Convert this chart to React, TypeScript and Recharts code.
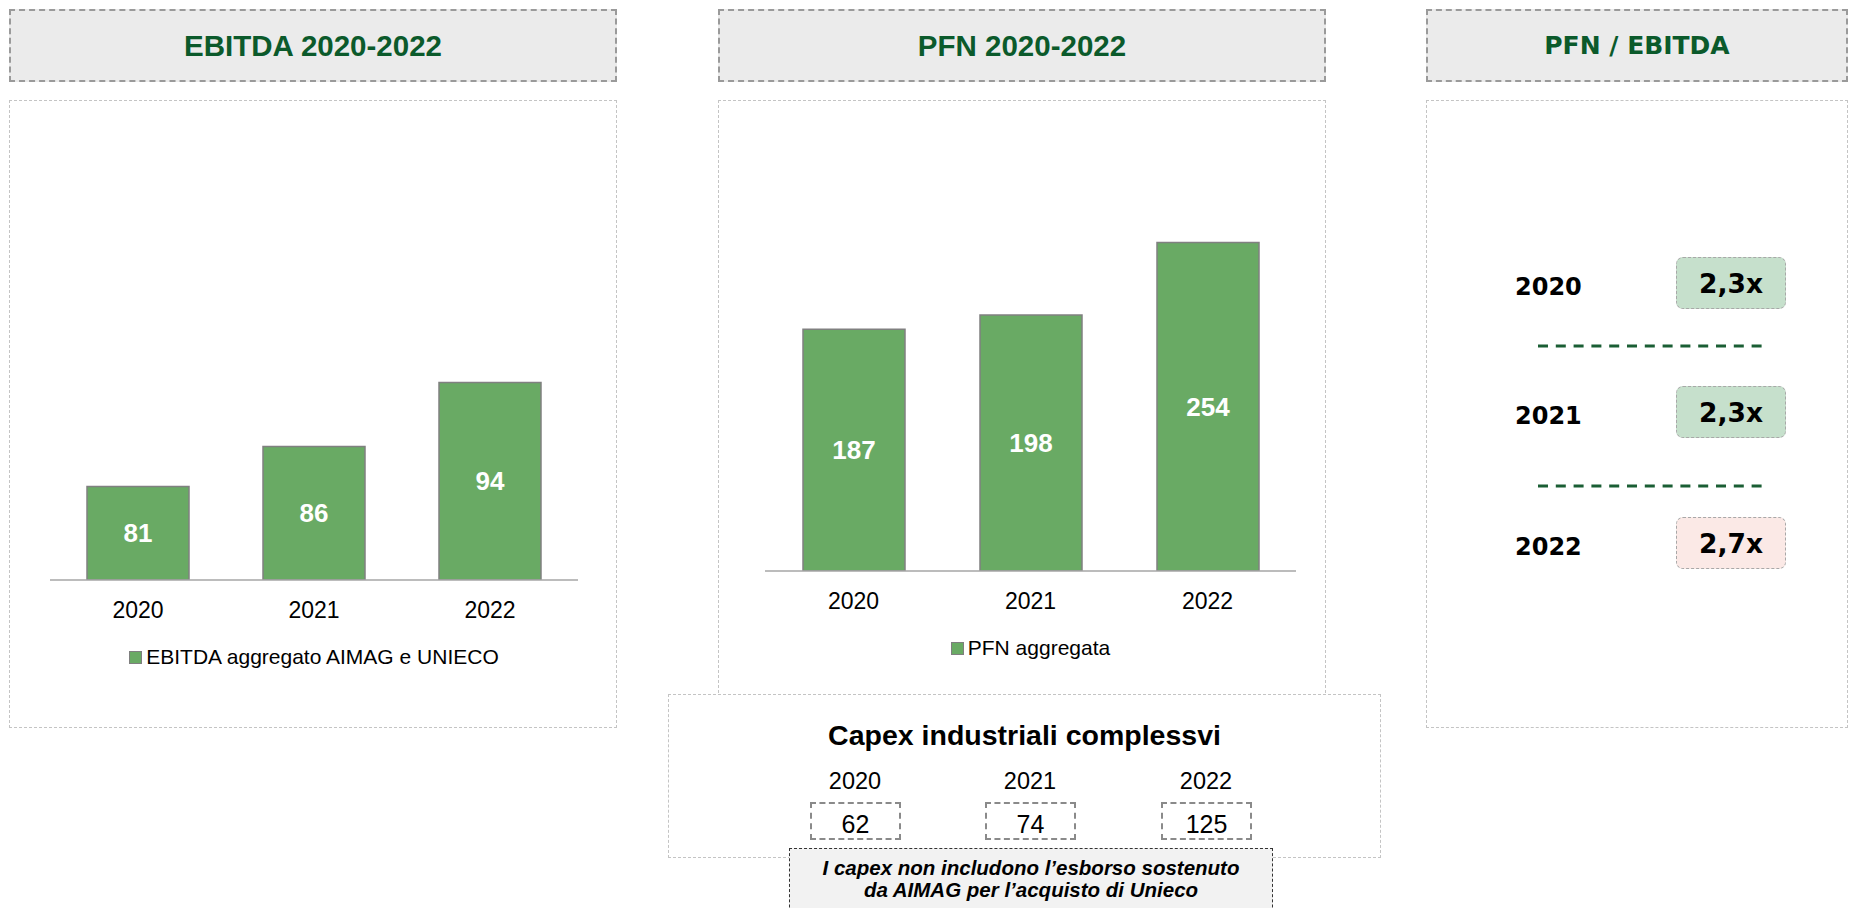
import { BarChart, Bar, XAxis, YAxis, LabelList, Legend } from 'recharts'

const YEARS = ['2020', '2021', '2022']
const EBITDA = [81, 86, 94]
const PFN = [187, 198, 254]
const CAPEX = [62, 74, 125]
const RATIOS = ['2,3x', '2,3x', '2,7x']
const RATIO_FILLS = ['#c6e0cc', '#c6e0cc', '#fbe9e6']

const SANS = '"Liberation Sans", Arial, sans-serif'
const WIDE = '"DejaVu Sans", Verdana, sans-serif'
const GREEN = '#0b5a2b'
const BAR_FILL = '#69aa64'

const ebitdaData = YEARS.map((year, i) => ({ year, value: EBITDA[i] }))
const pfnData = YEARS.map((year, i) => ({ year, value: PFN[i] }))

function LegendBox(props: any) {
  const item = (props.payload || [])[0]
  return (
    <div style={{ display: 'flex', justifyContent: 'center', alignItems: 'center', height: 24 }}>
      <span style={{ width: 11, height: 11, background: BAR_FILL, border: '1px solid #7f7f7f', marginRight: 4 }} />
      <span style={{ fontFamily: SANS, fontSize: 21, color: '#000' }}>{item ? item.value : ''}</span>
    </div>
  )
}

interface ChartProps {
  data: { year: string; value: number }[]
  name: string
  domain: [number, number]
  left: number
  top: number
  width: number
  height: number
  margin: { top: number; right: number; bottom: number; left: number }
  legendTop: number
}

function PanelChart({ data, name, domain, left, top, width, height, margin, legendTop }: ChartProps) {
  return (
    <div style={{ position: 'absolute', left, top }}>
      <BarChart width={width} height={height} data={data} margin={margin}>
        <XAxis
          dataKey="year"
          axisLine={{ stroke: '#a6a6a6', strokeWidth: 1.5 }}
          tickLine={false}
          tickMargin={16}
          height={60}
          tick={{ fill: '#000', fontSize: 23, fontFamily: SANS }}
        />
        <YAxis hide domain={domain} allowDataOverflow />
        <Legend
          layout="horizontal"
          align="center"
          verticalAlign="middle"
          content={LegendBox}
          wrapperStyle={{ top: legendTop, left: margin.left, width: width - margin.left - margin.right, bottom: 'auto' }}
        />
        <Bar
          dataKey="value"
          name={name}
          fill={BAR_FILL}
          stroke="#808080"
          strokeWidth={1.5}
          barSize={102}
          isAnimationActive={false}
        >
          <LabelList
            dataKey="value"
            position="center"
            fill="#fff"
            fontSize={26}
            fontWeight="bold"
            fontFamily={SANS}
          />
        </Bar>
      </BarChart>
    </div>
  )
}

function Header({ x, w, title, font, size }: { x: number; w: number; title: string; font: string; size: number }) {
  return (
    <div
      style={{
        position: 'absolute', left: x, top: 9, width: w, height: 73, boxSizing: 'border-box',
        background: '#ebebeb', border: '2px dashed #9a9a9a',
        display: 'flex', alignItems: 'center', justifyContent: 'center',
        fontFamily: font, fontWeight: 'bold', fontSize: size, color: GREEN,
      }}
    >
      {title}
    </div>
  )
}

function Panel({ x, w, h }: { x: number; w: number; h: number }) {
  return (
    <div
      style={{
        position: 'absolute', left: x, top: 100, width: w, height: h, boxSizing: 'border-box',
        border: '1px dashed #c4c4c4', background: '#fff',
      }}
    />
  )
}

export default function App() {
  const capexX = [855, 1030, 1206]
  const rowY = [287, 416, 547]
  return (
    <div style={{ position: 'absolute', left: 0, top: 0, width: 1851, height: 908, overflow: 'hidden', background: '#fff' }}>
      <Header x={9} w={608} title="EBITDA 2020-2022" font={SANS} size={29.5} />
      <Header x={718} w={608} title="PFN 2020-2022" font={SANS} size={29.5} />
      <Header x={1426} w={422} title="PFN / EBITDA" font={WIDE} size={25} />

      <Panel x={9} w={608} h={628} />
      <Panel x={718} w={608} h={628} />
      <Panel x={1426} w={422} h={628} />

      <PanelChart
        data={ebitdaData}
        name="EBITDA aggregato AIMAG e UNIECO"
        domain={[69.3, 123.05]}
        left={9}
        top={100}
        width={608}
        height={628}
        margin={{ top: 50, right: 39, bottom: 88, left: 41 }}
        legendTop={545}
      />
      <PanelChart
        data={pfnData}
        name="PFN aggregata"
        domain={[0, 300]}
        left={718}
        top={100}
        width={608}
        height={628}
        margin={{ top: 83, right: 30, bottom: 97, left: 47 }}
        legendTop={536}
      />

      {/* Capex box */}
      <div
        style={{
          position: 'absolute', left: 668, top: 694, width: 713, height: 164, boxSizing: 'border-box',
          border: '1px dashed #c4c4c4', background: '#fff',
        }}
      />
      <div
        style={{
          position: 'absolute', left: 668, top: 717, width: 713, textAlign: 'center',
          fontFamily: SANS, fontWeight: 'bold', fontSize: 28.5, color: '#000', lineHeight: '36px',
        }}
      >
        Capex industriali complessvi
      </div>
      {YEARS.map((y, i) => (
        <div key={y}>
          <div
            style={{
              position: 'absolute', left: capexX[i] - 60, top: 767, width: 120, textAlign: 'center',
              fontFamily: SANS, fontSize: 23.5, color: '#000', lineHeight: '28px',
            }}
          >
            {y}
          </div>
          <div
            style={{
              position: 'absolute', left: capexX[i] - 45, top: 802, width: 91, height: 38, boxSizing: 'border-box',
              border: '2px dashed #8a8a8a', display: 'flex', alignItems: 'center', justifyContent: 'center',
              fontFamily: SANS, fontSize: 25, color: '#000', paddingTop: 7,
            }}
          >
            {CAPEX[i]}
          </div>
        </div>
      ))}
      <div
        style={{
          position: 'absolute', left: 789, top: 848, width: 484, height: 80, boxSizing: 'border-box',
          border: '1.5px dashed #333', background: '#f2f2f2', textAlign: 'center', paddingTop: 8,
          fontFamily: SANS, fontWeight: 'bold', fontStyle: 'italic', fontSize: 20.5, lineHeight: '22px', color: '#000',
        }}
      >
        I capex non includono l’esborso sostenuto
        <br />
        da AIMAG per l’acquisto di Unieco
      </div>

      {/* PFN / EBITDA */}
      {YEARS.map((y, i) => (
        <div key={'r' + y}>
          <div
            style={{
              position: 'absolute', left: 1515, top: rowY[i] - 16, lineHeight: '32px',
              fontFamily: WIDE, fontWeight: 'bold', fontSize: 24, color: '#000',
            }}
          >
            {y}
          </div>
          <div
            style={{
              position: 'absolute', left: 1676, top: rowY[i] - 30, width: 110, height: 52, boxSizing: 'border-box',
              background: RATIO_FILLS[i], border: '1.5px dashed #a8a8a8', borderRadius: 7,
              display: 'flex', alignItems: 'center', justifyContent: 'center',
              fontFamily: WIDE, fontWeight: 'bold', fontSize: 26.5, color: '#000',
            }}
          >
            {RATIOS[i]}
          </div>
        </div>
      ))}
      {[346, 486].map((ly) => (
        <svg key={ly} style={{ position: 'absolute', left: 1538, top: ly - 2 }} width={230} height={4}>
          <line x1={0} y1={2} x2={230} y2={2} stroke="#1a5e34" strokeWidth={3} strokeDasharray="10 7.8" />
        </svg>
      ))}
    </div>
  )
}
